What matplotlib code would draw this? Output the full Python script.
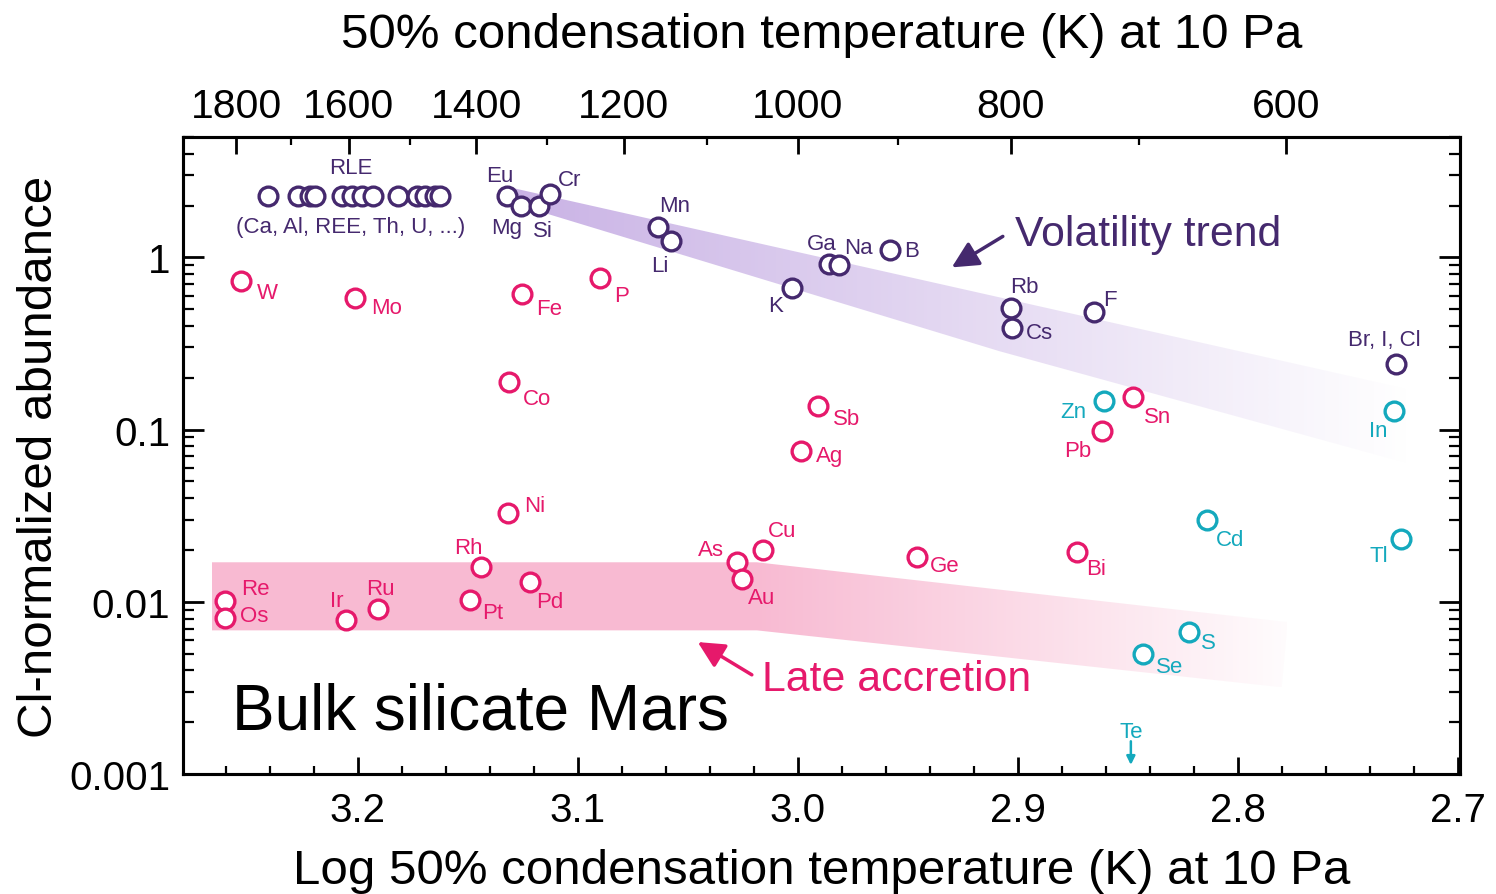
import numpy as np
import matplotlib
matplotlib.use("Agg")
import matplotlib.pyplot as plt
from matplotlib.patches import Polygon

plt.rcParams["font.family"] = ["Liberation Sans", "DejaVu Sans"]

PURPLE = "#45296e"
PINK = "#e6196b"
CYAN = "#14a9bd"

# refractory lithophile elements (unlabelled cluster)
rle_x = [3.2409, 3.2273, 3.2218, 3.2195, 3.2073, 3.2027, 3.1982, 3.1932,
         3.1818, 3.1732, 3.1695, 3.1650, 3.1627]
rle_y = [2.26] * len(rle_x)

# lithophile / volatile elements (purple)
lith_names = ["Eu", "Mg", "Si", "Cr", "Mn", "Li", "Ga", "Na", "B", "K",
              "Rb", "Cs", "F", "Br, I, Cl"]
lith_x = [3.1323, 3.1259, 3.1177, 3.1127, 3.0636, 3.0577, 2.9859, 2.9814,
          2.9582, 3.0027, 2.9032, 2.9027, 2.8655, 2.7282]
lith_y = [2.26, 1.98, 2.00, 2.32, 1.51, 1.25, 0.91, 0.90, 1.10, 0.66,
          0.506, 0.387, 0.48, 0.242]
lith_off = [(-5, 15), (-10, -15), (3, -18), (14, 11), (12, 15), (-8, -18),
            (-5, 15), (14, 13), (16, 0), (-12, -12), (10, 16), (20, -3),
            (12, 9), (-8, 17)]

# siderophile elements (pink)
sid_names = ["W", "Mo", "Fe", "P", "Co", "Sb", "Ag", "Sn", "Pb", "Ni", "Rh",
             "Re", "Os", "Ir", "Ru", "Pt", "Pd", "As", "Au", "Cu", "Ge", "Bi"]
sid_x = [3.2532, 3.2014, 3.1255, 3.0900, 3.1314, 2.9909, 2.9986, 2.8477,
         2.8618, 3.1318, 3.1441, 3.2605, 3.2605, 3.2055, 3.1909, 3.1491,
         3.1218, 3.0277, 3.0255, 3.0159, 2.9459, 2.8732]
sid_y = [0.726, 0.578, 0.61, 0.755, 0.188, 0.138, 0.075, 0.154, 0.098,
         0.033, 0.0159, 0.0101, 0.0081, 0.0078, 0.0091, 0.0103, 0.0131,
         0.0171, 0.0135, 0.0200, 0.0183, 0.0194]
sid_off = [(19, -8), (23, -6.5), (20, -10), (16, -12), (20, -11.5), (21, -9),
           (21, -3), (18, -14), (-17, -14), (19, 5), (-9, 14), (22, 9),
           (21, 1.5), (-6.5, 14), (1.5, 15), (16.5, -9), (14, -14), (-19, 9),
           (14, -13), (14, 14), (20, -6.5), (14, -12)]

# chalcophile elements (cyan)
chal_names = ["Zn", "In", "Cd", "Tl", "S", "Se"]
chal_x = [2.8609, 2.7291, 2.8141, 2.7259, 2.8223, 2.8432]
chal_y = [0.146, 0.129, 0.0297, 0.0231, 0.00672, 0.00498]
chal_off = [(-22, -7), (-11.5, -14), (16.5, -14), (-16, -11.5), (14, -8),
            (19, -9)]

# Te upper limit
te_x = 2.8486
te_limit = 0.00155

# bands: (x, y) of top and bottom edges
vol_top = [(3.1309, 2.55), (2.7218, 0.171)]
vol_bot = [(3.1309, 2.085), (2.9082, 0.285), (2.7218, 0.0631)]
late_top = [(3.2664, 0.01697), (3.0186, 0.01697), (2.7773, 0.00763)]
late_bot = [(3.2664, 0.00683), (3.0186, 0.00683), (2.7800, 0.00319)]

top_major = [1800, 1600, 1400, 1200, 1000, 800, 600]
top_minor = [1700, 1500, 1300, 1100, 900, 700]


def gradient_band(ax, top, bot, rgb, x_fade0, x_fade1, a0, a1):
    verts = list(top) + list(reversed(bot))
    poly = Polygon(verts, closed=True, facecolor="none", edgecolor="none")
    ax.add_patch(poly)
    xs = [v[0] for v in verts]
    ys = [v[1] for v in verts]
    x_left, x_right = max(xs), min(xs)
    n = 400
    xg = np.linspace(x_left, x_right, n)
    t = np.clip((x_fade0 - xg) / (x_fade0 - x_fade1), 0, 1)
    alpha = a0 + (a1 - a0) * t
    img = np.zeros((2, n, 4))
    img[..., :3] = rgb
    img[..., 3] = alpha
    im = ax.imshow(img, extent=(x_left, x_right, min(ys), max(ys)),
                   aspect="auto", interpolation="bilinear", zorder=1)
    im.set_clip_path(poly)


def arrow(ax, tail, head, color):
    ax.annotate("", xy=head, xytext=tail, textcoords="data",
                arrowprops=dict(arrowstyle="-|>,head_length=0.8,head_width=0.4",
                                color=color, lw=2.5, shrinkA=0, shrinkB=0,
                                mutation_scale=20))


fig = plt.figure(figsize=(14.96, 8.95), dpi=100)
ax = fig.add_axes([0.1223, 0.134, 0.8536, 0.7118])
ax.set_yscale("log")
ax.set_xlim(3.2795, 2.699)
ax.set_ylim(0.001, 5.0)

gradient_band(ax, vol_top, vol_bot, (0.79, 0.70, 0.90), 3.1309, 2.7218, 1.0, 0.0)
gradient_band(ax, late_top, late_bot, (0.973, 0.73, 0.827), 3.0186, 2.778, 1.0, 0.05)

mk = dict(marker="o", linestyle="none", markersize=13.5, markeredgewidth=2.4,
          markerfacecolor="white", zorder=5)
ax.plot(rle_x, rle_y, markeredgecolor=PURPLE, **mk)
ax.plot(lith_x, lith_y, markeredgecolor=PURPLE, **mk)
ax.plot(sid_x, sid_y, markeredgecolor=PINK, **mk)
ax.plot(chal_x, chal_y, markeredgecolor=CYAN, **mk)

lab = dict(textcoords="offset points", ha="center", va="center", fontsize=16)
for names, xs, ys, offs, col in [
    (lith_names, lith_x, lith_y, lith_off, PURPLE),
    (sid_names, sid_x, sid_y, sid_off, PINK),
    (chal_names, chal_x, chal_y, chal_off, CYAN),
]:
    for name, x, y, off in zip(names, xs, ys, offs):
        ax.annotate(name, (x, y), xytext=off, color=col, zorder=6, **lab)

rle_center = (np.mean([max(rle_x), min(rle_x)]), rle_y[0])
ax.annotate("RLE", rle_center, xytext=(-2, 21), color=PURPLE, **lab)
ax.annotate("(Ca, Al, REE, Th, U, ...)", rle_center, xytext=(-2, -21.5),
            color=PURPLE, **lab)

# Te upper limit arrow
ax.annotate("", xy=(te_x, te_limit), xytext=(0, -17), textcoords="offset points",
            arrowprops=dict(arrowstyle="<|-,head_length=0.5,head_width=0.25",
                            color=CYAN, lw=1.8, shrinkA=0, shrinkB=0))
ax.annotate("Te", (te_x, te_limit), xytext=(0, 7), color=CYAN, **lab)

# trend annotations
ax.text(2.9014, 1.36, "Volatility trend", color=PURPLE, fontsize=30.8,
        ha="left", va="center")
arrow(ax, (2.9068, 1.324), (2.930, 0.875), PURPLE)
ax.text(3.0164, 0.00357, "Late accretion", color=PINK, fontsize=30.8,
        ha="left", va="center")
arrow(ax, (3.0209, 0.00377), (3.0455, 0.00584), PINK)
ax.text(3.2573, 0.00232, "Bulk silicate Mars", fontsize=46, ha="left",
        va="center", color="black")

# axes styling
for sp in ax.spines.values():
    sp.set_linewidth(2.2)
ax.set_xticks([3.2, 3.1, 3.0, 2.9, 2.8, 2.7])
ax.set_xticklabels(["3.2", "3.1", "3.0", "2.9", "2.8", "2.7"])
ax.set_xticks(np.arange(2.72, 3.28, 0.02), minor=True)
ax.set_yticks([0.001, 0.01, 0.1, 1])
ax.set_yticklabels(["0.001", "0.01", "0.1", "1"])
ax.tick_params(axis="x", which="major", direction="in", length=12, width=2,
               labelsize=29, pad=12, top=False)
ax.tick_params(axis="x", which="minor", direction="in", length=6, width=1.6,
               top=False)
ax.tick_params(axis="y", which="major", direction="in", length=15, width=2,
               labelsize=29, pad=9, right=True)
ax.tick_params(axis="y", which="minor", direction="in", length=8, width=1.6,
               right=True)
ax.set_xlabel("Log 50% condensation temperature (K) at 10 Pa", fontsize=35.5,
              labelpad=14)
ax.set_ylabel("Cl-normalized abundance", fontsize=35.5, labelpad=5)

ax2 = ax.twiny()
ax2.set_xlim(ax.get_xlim())
ax2.set_xticks(np.log10(top_major))
ax2.set_xticklabels([str(t) for t in top_major])
ax2.set_xticks(np.log10(top_minor), minor=True)
ax2.tick_params(axis="x", which="major", direction="in", length=12, width=2,
                labelsize=29.5, pad=8.5)
ax2.tick_params(axis="x", which="minor", direction="in", length=6, width=1.6)
ax2.set_xlabel("50% condensation temperature (K) at 10 Pa", fontsize=35.5,
               labelpad=29)
for sp in ax2.spines.values():
    sp.set_linewidth(2.2)

fig.savefig("out.png", dpi=100)
